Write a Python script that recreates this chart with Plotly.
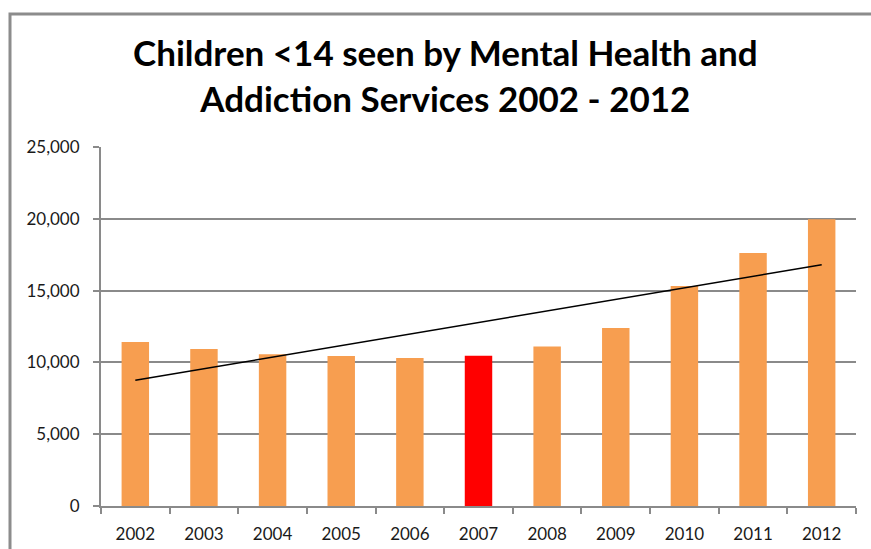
import numpy as np
import plotly.graph_objects as go

# Children under 14 seen by mental health and addiction services, by year
years = ["2002", "2003", "2004", "2005", "2006", "2007",
         "2008", "2009", "2010", "2011", "2012"]
children_seen = [11420, 10930, 10560, 10450, 10310, 10470,
                 11100, 12400, 15320, 17620, 19970]
highlight_year = "2007"

y_ticks = [0, 5000, 10000, 15000, 20000, 25000]
y_tick_text = ["0", "5,000", "10,000", "15,000", "20,000", "25,000"]

ORANGE = "#F79E50"
RED = "#FF0000"
GRID = "#8A8A8A"
FONT = "Lato"

bar_colors = [RED if y == highlight_year else ORANGE for y in years]

# Linear trend over the series (least squares, like a spreadsheet trendline)
idx = np.arange(len(years))
slope, intercept = np.polyfit(idx, children_seen, 1)
trend = slope * idx + intercept

fig = go.Figure()
fig.add_trace(go.Bar(
    x=years, y=children_seen,
    marker=dict(color=bar_colors, line=dict(width=0)),
    showlegend=False,
))
fig.add_trace(go.Scatter(
    x=[years[0], years[-1]], y=[trend[0], trend[-1]],
    mode="lines", line=dict(color="black", width=1.6),
    showlegend=False,
))

L, R, T, B = 101, 15, 147, 43
W, H = 871, 549
pw, ph = W - L - R, H - T - B


def px_x(px):
    return (px - L) / pw


def px_y(py):
    return (H - B - py) / ph


fig.update_layout(
    width=W, height=H,
    margin=dict(l=L, r=R, t=T, b=B),
    paper_bgcolor="white", plot_bgcolor="white",
    bargap=0.6,
    font=dict(family=FONT, color="#1A1A1A", size=17),
    xaxis=dict(
        type="category",
        automargin=False,
        showgrid=False,
        showline=True, linecolor=GRID, linewidth=2,
        ticks="outside", tickson="boundaries", ticklen=6,
        tickcolor=GRID, tickwidth=2,
        ticklabelstandoff=12,
        tickfont=dict(size=17, family=FONT, color="#1A1A1A"),
    ),
    yaxis=dict(
        range=[0, 25000],
        automargin=False,
        tickvals=y_ticks, ticktext=y_tick_text,
        showgrid=True, gridcolor=GRID, gridwidth=2,
        showline=True, linecolor=GRID, linewidth=2,
        ticks="outside", ticklen=6, tickcolor=GRID, tickwidth=2,
        ticklabelstandoff=10,
        zeroline=False,
        tickfont=dict(size=17, family=FONT, color="#1A1A1A"),
    ),
    annotations=[dict(
        text="<b>Children &lt;14 seen by Mental Health and<br>"
             "Addiction Services 2002 - 2012</b>",
        xref="paper", yref="paper",
        x=px_x(445), y=px_y(75),
        xanchor="center", yanchor="middle",
        showarrow=False,
        font=dict(family=FONT, size=35, color="black"),
    )],
    shapes=[dict(
        type="path", xref="paper", yref="paper",
        path=f"M {px_x(10)} {px_y(560)} L {px_x(10)} {px_y(14)} L {px_x(880)} {px_y(14)}",
        line=dict(color="#8C8C8C", width=3),
    )],
)

fig.write_html("out.html")
